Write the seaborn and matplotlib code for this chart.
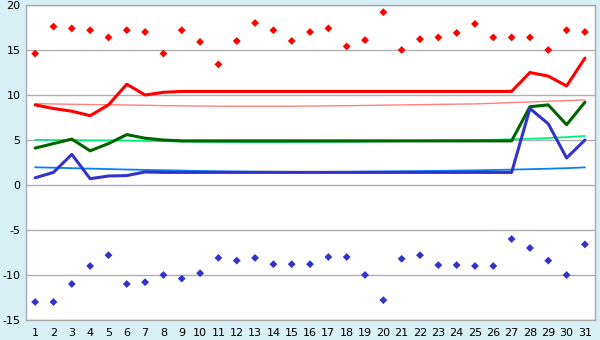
import matplotlib
matplotlib.use("Agg")
import matplotlib.pyplot as plt
import seaborn as sns
import pandas as pd

days = list(range(1, 32))

high_pts = [14.6, 17.6, 17.4, 17.2, 16.4, 17.2, 17.0, 14.6, 17.2, 15.9,
            13.4, 16.0, 18.0, 17.2, 16.0, 17.0, 17.4, 15.4, 16.1, 19.2,
            15.0, 16.2, 16.4, 16.9, 17.9, 16.4, 16.4, 16.4, 15.0, 17.2, 17.0]
low_pts = [-13.0, -13.0, -11.0, -9.0, -7.8, -11.0, -10.8, -10.0, -10.4, -9.8,
           -8.1, -8.4, -8.1, -8.8, -8.8, -8.8, -8.0, -8.0, -10.0, -12.8,
           -8.2, -7.8, -8.9, -8.9, -9.0, -9.0, -6.0, -7.0, -8.4, -10.0, -6.6]
red_line = [8.9, 8.5, 8.2, 7.7, 8.9, 11.2, 10.0, 10.3, 10.4, 10.4,
            10.4, 10.4, 10.4, 10.4, 10.4, 10.4, 10.4, 10.4, 10.4, 10.4,
            10.4, 10.4, 10.4, 10.4, 10.4, 10.4, 10.4, 12.5, 12.1, 11.0, 14.1]
green_line = [4.1, 4.6, 5.1, 3.8, 4.6, 5.6, 5.2, 5.0, 4.9, 4.9,
              4.9, 4.9, 4.9, 4.9, 4.9, 4.9, 4.9, 4.9, 4.9, 4.9,
              4.9, 4.9, 4.9, 4.9, 4.9, 4.9, 4.9, 8.7, 8.9, 6.7, 9.2]
blue_line = [0.8, 1.4, 3.4, 0.7, 1.0, 1.05, 1.45, 1.4, 1.4, 1.4,
             1.4, 1.4, 1.4, 1.4, 1.4, 1.4, 1.4, 1.4, 1.4, 1.4,
             1.4, 1.4, 1.4, 1.4, 1.4, 1.4, 1.4, 8.5, 6.8, 3.0, 5.0]
red_trend = [9.05, 9.0, 8.97, 8.94, 8.92, 8.89, 8.86, 8.82, 8.79, 8.77,
             8.76, 8.75, 8.75, 8.75, 8.76, 8.77, 8.79, 8.81, 8.84, 8.87,
             8.90, 8.93, 8.96, 8.99, 9.01, 9.08, 9.16, 9.22, 9.31, 9.38, 9.46]
green_trend = [5.02, 5.0, 4.98, 4.96, 4.95, 4.93, 4.9, 4.87, 4.84, 4.81,
               4.79, 4.78, 4.78, 4.78, 4.78, 4.79, 4.8, 4.81, 4.83, 4.85,
               4.87, 4.9, 4.93, 4.96, 4.99, 5.03, 5.08, 5.14, 5.22, 5.32, 5.44]
blue_trend = [1.97, 1.92, 1.87, 1.82, 1.77, 1.72, 1.68, 1.64, 1.6, 1.56,
              1.53, 1.5, 1.48, 1.47, 1.46, 1.45, 1.46, 1.47, 1.49, 1.51,
              1.53, 1.55, 1.57, 1.6, 1.63, 1.67, 1.71, 1.76, 1.81, 1.87, 1.96]
y_ticks = [-15, -10, -5, 0, 5, 10, 15, 20]
y_tick_labels = ["-15", "-10", "-5", "0", "5", "10", "15", "20"]

df = pd.DataFrame({
    "day": days, "high": high_pts, "low": low_pts,
    "red": red_line, "green": green_line, "blue": blue_line,
    "red_t": red_trend, "green_t": green_trend, "blue_t": blue_trend,
})

sns.set_theme(style="white")
plt.rcParams["font.family"] = ["DejaVu Sans"]

bg = "#D8EFF6"
fig = plt.figure(figsize=(6, 3.4), dpi=100, facecolor=bg)
ax = fig.add_axes([26 / 600, 1 - 320 / 340, (595 - 26) / 600, (320 - 5) / 340])
ax.set_facecolor("white")

# thin trend lines
sns.lineplot(data=df, x="day", y="red_t", ax=ax, color="#FF8080", linewidth=1.0, zorder=2)
sns.lineplot(data=df, x="day", y="green_t", ax=ax, color="#00F080", linewidth=1.3, zorder=2)
sns.lineplot(data=df, x="day", y="blue_t", ax=ax, color="#0A80F0", linewidth=1.3, zorder=2)

# thick lines
sns.lineplot(data=df, x="day", y="red", ax=ax, color="#FF0000", linewidth=2.2, zorder=3)
sns.lineplot(data=df, x="day", y="green", ax=ax, color="#006400", linewidth=2.2, zorder=3)
sns.lineplot(data=df, x="day", y="blue", ax=ax, color="#3333CC", linewidth=2.2, zorder=3)

# point markers
sns.scatterplot(data=df, x="day", y="high", ax=ax, color="#FF0000", marker="D", s=16,
                edgecolor="none", zorder=4)
sns.scatterplot(data=df, x="day", y="low", ax=ax, color="#3333CC", marker="D", s=16,
                edgecolor="none", zorder=4)

ax.set_xlim(0.5, 31.55)
ax.set_ylim(-15, 20)
ax.set_xticks(days)
ax.set_xticklabels([str(d) for d in days])
ax.set_yticks(y_ticks)
ax.set_yticklabels(y_tick_labels)
ax.set_xlabel("")
ax.set_ylabel("")
ax.grid(axis="y", color="#B0B0B0", linewidth=1.0, zorder=1)
ax.grid(axis="x", visible=False)
ax.set_axisbelow(True)
for s in ax.spines.values():
    s.set_color("#A8A8A8")
    s.set_linewidth(1.0)
ax.tick_params(axis="both", which="both", direction="out", length=3.5, width=1,
               color="#333333", labelsize=8, labelcolor="#000000", pad=2)
ax.tick_params(axis="y", length=3, pad=1)

fig.savefig("out.png", dpi=100, facecolor=bg)
